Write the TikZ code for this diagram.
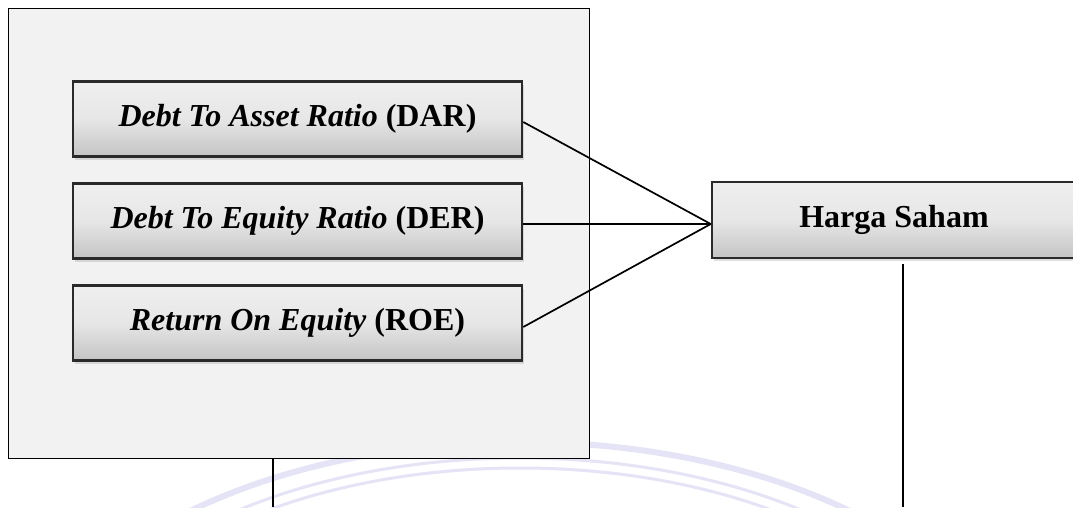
\documentclass[tikz,border=0pt]{standalone}
\usepackage{fontspec}
\setmainfont{Liberation Serif}
\usetikzlibrary{calc,shadows}
\definecolor{panelbg}{HTML}{F2F2F2}
\definecolor{boxedge}{HTML}{2A2A2A}
\definecolor{boxtop}{HTML}{EFEFEF}
\definecolor{boxbot}{HTML}{C4C4C4}
\definecolor{wm}{HTML}{E4E4F6}
\tikzset{
  varbox/.style={draw=boxedge, line width=2.5pt, top color=boxtop, bottom color=boxbot,
    middle color=boxtop!80!boxbot, shading angle=0,
    drop shadow={shadow xshift=2pt, shadow yshift=-3pt, opacity=0.25, fill=gray},
    minimum width=449pt, minimum height=75pt, inner sep=0pt,
    font=\fontsize{32}{38}\selectfont\bfseries},
  link/.style={draw=black, line width=1.7pt},
  thin/.style={draw=black, line width=1.2pt}
}
\begin{document}
\begin{tikzpicture}[x=1pt,y=-1pt]
\useasboundingbox (0,0) rectangle (1073,507);
\fill[white] (0,0) rectangle (1073,507);
% faint watermark arcs
\begin{scope}
\clip (0,0) rectangle (1073,507);
\draw[wm, line width=6pt] (520,720) ellipse[x radius=500pt, y radius=278pt];
\draw[wm, line width=3pt] (520,720) ellipse[x radius=470pt, y radius=262pt];
\draw[wm, line width=3pt] (520,720) ellipse[x radius=455pt, y radius=252pt];
\end{scope}
% panel
\node[draw=black, line width=1pt, fill=panelbg, minimum width=581pt, minimum height=450pt, inner sep=0pt, anchor=north west] (panel) at (8,8) {};
\node[varbox] (dar) at (297.5,119) {\textit{Debt To Asset Ratio} (DAR)};
\node[varbox] (der) at (297.5,221) {\textit{Debt To Equity Ratio} (DER)};
\node[varbox] (roe) at (297.5,323) {\textit{Return On Equity} (ROE)};
\begin{scope}
\clip (0,0) rectangle (1073,507);
\node[varbox, minimum width=364pt, minimum height=76pt] (hs) at (894,220) {Harga Saham};
\end{scope}
\coordinate (hin) at ($(hs.west)+(0,4)$);
\draw[link] ($(dar.east)+(0,3)$) -- (hin);
\draw[link] ($(der.east)+(0,3)$) -- (hin);
\draw[link] ($(roe.east)+(0,4)$) -- (hin);
\coordinate (pbot) at (273,507);
\draw[thin] (panel.south -| pbot) -- (pbot);
\coordinate (hbot) at (903,507);
\draw[thin] ($(hs.south -| hbot)+(0,5)$) -- (hbot);
\end{tikzpicture}
\end{document}
